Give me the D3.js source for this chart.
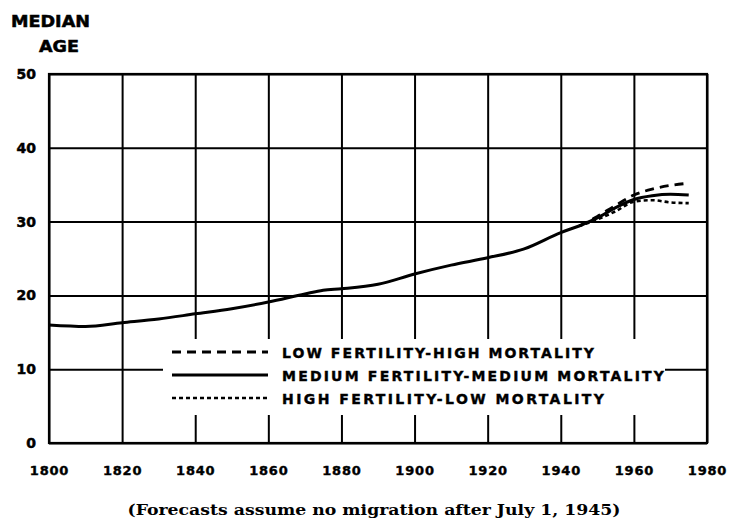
<!DOCTYPE html>
<html>
<head>
<meta charset="utf-8">
<script src="https://cdn.jsdelivr.net/npm/d3@7"></script>
<style>
  html, body { margin: 0; padding: 0; background: #fff; }
  svg { display: block; }
  .tick text { font-family: "DejaVu Sans", sans-serif; font-weight: bold; }
</style>
</head>
<body>
<svg id="chart" width="733" height="522"></svg>
<script>
// ---- data ----
const historicalYears = [1800, 1810, 1820, 1830, 1840, 1850, 1860, 1870, 1875, 1880, 1890, 1900, 1910, 1920, 1930, 1940, 1945];
const historicalAge   = [16.0, 15.8, 16.3, 16.8, 17.5, 18.2, 19.1, 20.2, 20.7, 20.9, 21.5, 22.9, 24.1, 25.1, 26.3, 28.5, 29.4];

const forecastYears = [1945, 1950, 1955, 1960, 1965, 1970, 1975];
const lowFertHighMort = [29.4, 30.7, 32.2, 33.6, 34.4, 34.9, 35.2];
const medFertMedMort  = [29.4, 30.5, 31.9, 33.0, 33.5, 33.7, 33.6];
const highFertLowMort = [29.4, 30.3, 31.4, 32.7, 32.9, 32.6, 32.5];

const xTicks = [1800, 1820, 1840, 1860, 1880, 1900, 1920, 1940, 1960, 1980];
const yTicks = [0, 10, 20, 30, 40, 50];

const legendLabels = [
  "LOW FERTILITY-HIGH MORTALITY",
  "MEDIUM FERTILITY-MEDIUM MORTALITY",
  "HIGH FERTILITY-LOW MORTALITY"
];

// ---- layout ----
const svg = d3.select("#chart");
const L = 49, R = 707, T = 74, B = 443;
const x = d3.scaleLinear().domain([1800, 1980]).range([L, R]);
const y = d3.scaleLinear().domain([0, 50]).range([B, T]);

// grid: horizontal lines
const yGrid = svg.append("g").attr("transform", `translate(${L},0)`)
  .call(d3.axisLeft(y).tickValues(yTicks).tickSize(-(R - L)).tickFormat(""));
yGrid.select(".domain").remove();
yGrid.selectAll(".tick line").attr("stroke", "#000").attr("stroke-width", 2);

// grid: vertical lines
const xGrid = svg.append("g").attr("transform", `translate(0,${B})`)
  .call(d3.axisBottom(x).tickValues(xTicks).tickSize(-(B - T)).tickFormat(""));
xGrid.select(".domain").remove();
xGrid.selectAll(".tick line").attr("stroke", "#000").attr("stroke-width", 2);

// frame
svg.append("rect").attr("x", x(1800)).attr("y", y(50))
  .attr("width", x(1980) - x(1800)).attr("height", y(0) - y(50))
  .attr("fill", "none").attr("stroke", "#000").attr("stroke-width", 2.2);

// legend background (masks grid)
svg.append("rect").attr("x", 163).attr("y", 339).attr("width", 502).attr("height", 76)
  .attr("fill", "#fff");

// axis labels
const yAxis = svg.append("g").attr("transform", `translate(${L - 13},0)`)
  .call(d3.axisLeft(y).tickValues(yTicks).tickSize(0).tickPadding(0));
yAxis.select(".domain").remove();
yAxis.selectAll(".tick text").attr("font-size", 14).attr("fill", "#000")
  .attr("stroke", "#000").attr("stroke-width", 0.5);

const xAxis = svg.append("g").attr("transform", `translate(0,${B + 23})`)
  .call(d3.axisBottom(x).tickValues(xTicks).tickSize(0).tickPadding(0).tickFormat(d3.format("d")));
xAxis.select(".domain").remove();
xAxis.selectAll(".tick text").attr("font-size", 13).attr("fill", "#000")
  .attr("letter-spacing", 0.8).attr("stroke", "#000").attr("stroke-width", 0.4);

// lines
const line = d3.line().x(d => x(d[0])).y(d => y(d[1])).curve(d3.curveMonotoneX);
const zip = (xs, ys) => xs.map((v, i) => [v, ys[i]]);

svg.append("path").datum(zip(historicalYears, historicalAge)).attr("d", line)
  .attr("fill", "none").attr("stroke", "#000").attr("stroke-width", 3).attr("stroke-linejoin", "round");

const styles = [
  { data: lowFertHighMort, dash: "9,6", width: 2.8 },
  { data: medFertMedMort, dash: null, width: 3 },
  { data: highFertLowMort, dash: "4,3", width: 2.6 }
];
styles.forEach(s => {
  svg.append("path").datum(zip(forecastYears, s.data)).attr("d", line)
    .attr("fill", "none").attr("stroke", "#000").attr("stroke-width", s.width)
    .attr("stroke-dasharray", s.dash);
});

// legend
const legendY = [352, 375, 398];
const legendLen = [312, 382, 322];
legendLabels.forEach((lab, i) => {
  svg.append("line").attr("x1", 172).attr("x2", 268)
    .attr("y1", legendY[i]).attr("y2", legendY[i])
    .attr("stroke", "#000").attr("stroke-width", styles[i].width)
    .attr("stroke-dasharray", styles[i].dash);
  svg.append("text").attr("x", 282).attr("y", legendY[i] + 5.5)
    .attr("font-family", "DejaVu Sans, sans-serif").attr("font-weight", "bold")
    .attr("font-size", 14).attr("textLength", legendLen[i]).attr("lengthAdjust", "spacing")
    .attr("stroke", "#000").attr("stroke-width", 0.4)
    .text(lab);
});

// title
svg.append("text").attr("x", 11).attr("y", 27)
  .attr("font-family", "DejaVu Sans, sans-serif").attr("font-weight", "bold")
  .attr("font-size", 15.5).attr("textLength", 79).attr("lengthAdjust", "spacingAndGlyphs")
  .attr("stroke", "#000").attr("stroke-width", 0.5).text("MEDIAN");
svg.append("text").attr("x", 39).attr("y", 52)
  .attr("font-family", "DejaVu Sans, sans-serif").attr("font-weight", "bold")
  .attr("font-size", 15.5).attr("textLength", 40).attr("lengthAdjust", "spacingAndGlyphs")
  .attr("stroke", "#000").attr("stroke-width", 0.5).text("AGE");

// caption
svg.append("text").attr("x", 374).attr("y", 515).attr("text-anchor", "middle")
  .attr("font-family", "DejaVu Serif, serif").attr("font-weight", "bold")
  .attr("font-size", 14).attr("textLength", 493).attr("lengthAdjust", "spacingAndGlyphs")
  .text("(Forecasts assume no migration after July 1, 1945)");
</script>
</body>
</html>
